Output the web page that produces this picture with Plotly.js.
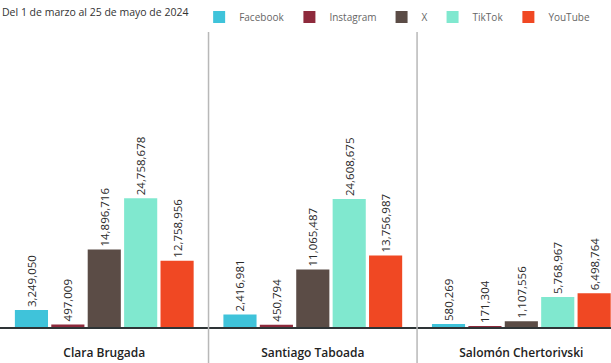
<!DOCTYPE html>
<html><head><meta charset="utf-8">
<script src="https://cdn.plot.ly/plotly-3.0.1.min.js"></script>
<style>html,body{margin:0;padding:0;background:#fff;}#chart{width:611px;height:363px;}</style>
</head><body><div id="chart"></div>
<script>
const candidates = ['Clara Brugada', 'Santiago Taboada', 'Salomón Chertorivski'];
const platforms = ['Facebook', 'Instagram', 'X', 'TikTok', 'YouTube'];
const facebook = [3249050, 2416981, 580269];
const instagram = [497009, 450794, 171304];
const xVals = [14896716, 11065487, 1107556];
const tiktok = [24758678, 24608675, 5768967];
const youtube = [12758956, 13756987, 6498764];
const colors = ['#3fc3da', '#8e2a3c', '#5b4c46', '#80e8cf', '#f04823'];
const series = [facebook, instagram, xVals, tiktok, youtube];

const fmt = v => v.toLocaleString('en-US');
const traces = series.map((vals, i) => ({
  type: 'bar', name: platforms[i], x: candidates, y: vals,
  marker: {color: colors[i]},
  text: vals.map(fmt), textposition: 'outside', textangle: -90,
  constraintext: 'none', cliponaxis: false,
  textfont: {family: 'Open Sans, sans-serif', size: 11.5, color: '#2a2a2a'},
  hoverinfo: 'none'
}));

const layout = {
  width: 611, height: 363,
  margin: {l: 0, r: 0, t: 40, b: 36},
  paper_bgcolor: '#fff', plot_bgcolor: '#fff',
  barmode: 'group', bargap: 0.127, bargroupgap: 0.09,
  font: {family: 'Open Sans, sans-serif', color: '#333'},
  xaxis: {range: [-0.5, 2.43], showline: true, linecolor: '#2e3436', linewidth: 2,
    ticks: '', tickfont: {family: 'Open Sans, sans-serif', size: 12, color: '#222', weight: 600},
    ticklabelstandoff: 14, fixedrange: true},
  yaxis: {range: [0, 55200000], visible: false, fixedrange: true},
  showlegend: true,
  legend: {orientation: 'h', x: 0, xanchor: 'left', y: 1.08, yanchor: 'middle',
    font: {size: 10, color: '#666'}, itemwidth: 30,
    title: {text: 'Del 1 de marzo al 25 de mayo de 2024 ', side: 'left', font: {size: 10.5, color: '#333'}}},
  shapes: [0.5, 1.5].map(p => ({type: 'line', xref: 'x', yref: 'paper', x0: p, x1: p, y0: -0.13, y1: 1.04,
    line: {color: '#b8b8b8', width: 1.5}}))
};
Plotly.newPlot('chart', traces, layout, {displayModeBar: false, staticPlot: true});
</script></body></html>
